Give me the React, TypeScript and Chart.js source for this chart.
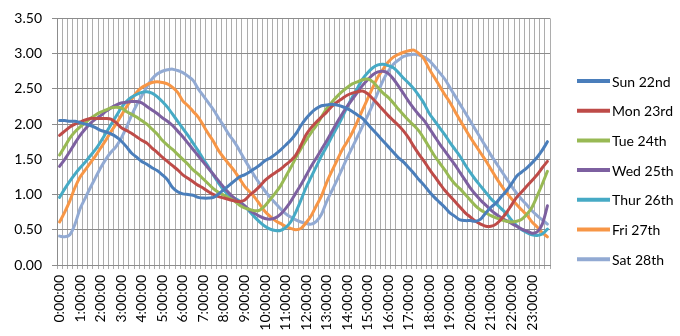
import React, { useEffect, useRef } from "react";
import { Chart, registerables } from "chart.js";

Chart.register(...registerables);

// 15-minute categories over one day
const categories: string[] = [];
for (let h = 0; h < 24; h++) {
  for (const m of ["00", "15", "30", "45"]) categories.push(`${h}:${m}:00`);
}

const seriesNames = ["Sun 22nd", "Mon 23rd", "Tue 24th", "Wed 25th", "Thur 26th", "Fri 27th", "Sat 28th"];
const seriesColors = ["#4A7EBB", "#BE4B48", "#98B954", "#7D60A0", "#46AAC5", "#F79646", "#92AAD3"];

const sun = [
  2.05, 2.05, 2.04, 2.04, 2.02, 2.0, 1.98, 1.95, 1.91, 1.89, 1.86, 1.82, 1.76, 1.68, 1.59, 1.53,
  1.47, 1.43, 1.38, 1.34, 1.28, 1.21, 1.1, 1.04, 1.01, 1.0, 0.99, 0.96, 0.95, 0.95, 0.96, 1.01,
  1.07, 1.13, 1.19, 1.25, 1.28, 1.32, 1.37, 1.42, 1.48, 1.52, 1.57, 1.63, 1.7, 1.77, 1.86, 1.98,
  2.08, 2.16, 2.22, 2.26, 2.27, 2.28, 2.27, 2.25, 2.22, 2.18, 2.13, 2.08, 2.0, 1.92, 1.84, 1.76,
  1.68, 1.6, 1.52, 1.46, 1.38, 1.3, 1.21, 1.13, 1.04, 0.96, 0.89, 0.82, 0.74, 0.69, 0.64, 0.63,
  0.63, 0.62, 0.65, 0.74, 0.82, 0.88, 0.97, 1.05, 1.15, 1.26, 1.32, 1.38, 1.45, 1.53, 1.63, 1.75,
];
const mon = [
  1.84, 1.9, 1.96, 2.0, 2.03, 2.06, 2.08, 2.08, 2.08, 2.08, 2.07, 2.02, 1.95, 1.91, 1.87, 1.82,
  1.77, 1.73, 1.66, 1.6, 1.53, 1.47, 1.41, 1.35, 1.28, 1.23, 1.18, 1.13, 1.09, 1.04, 1.0, 0.97,
  0.95, 0.93, 0.91, 0.9, 0.92, 0.99, 1.05, 1.12, 1.2, 1.26, 1.31, 1.36, 1.42, 1.48, 1.56, 1.7,
  1.85, 1.95, 2.03, 2.1, 2.17, 2.25, 2.31, 2.36, 2.41, 2.44, 2.46, 2.47, 2.43, 2.36, 2.28, 2.2,
  2.12, 2.05, 1.98, 1.9, 1.8, 1.68, 1.57, 1.47, 1.36, 1.26, 1.16, 1.06, 0.98, 0.9, 0.82, 0.74,
  0.68, 0.62, 0.58, 0.55, 0.55, 0.58, 0.65, 0.74, 0.85, 0.96, 1.04, 1.12, 1.2, 1.28, 1.38, 1.47,
];
const tue = [
  1.56, 1.68, 1.8, 1.89, 1.96, 2.02, 2.08, 2.13, 2.17, 2.2, 2.23, 2.24, 2.23, 2.18, 2.14, 2.1,
  2.05, 2.0, 1.93, 1.86, 1.77, 1.7, 1.64, 1.57, 1.5, 1.43, 1.35, 1.29, 1.22, 1.15, 1.08, 1.03,
  0.99, 0.95, 0.91, 0.85, 0.81, 0.79, 0.77, 0.78, 0.84, 0.93, 1.02, 1.12, 1.25, 1.38, 1.52, 1.65,
  1.77, 1.88, 1.98, 2.1, 2.22, 2.31, 2.39, 2.46, 2.52, 2.57, 2.6, 2.63, 2.64, 2.6, 2.52, 2.44,
  2.38, 2.3, 2.21, 2.13, 2.05, 1.98, 1.9, 1.79, 1.67, 1.55, 1.45, 1.35, 1.24, 1.15, 1.08, 1.0,
  0.92, 0.84, 0.78, 0.74, 0.7, 0.67, 0.64, 0.62, 0.61, 0.62, 0.65, 0.72, 0.82, 0.98, 1.15, 1.33,
];
const wed = [
  1.4, 1.5, 1.61, 1.73, 1.84, 1.93, 2.01, 2.07, 2.12, 2.18, 2.23, 2.27, 2.3, 2.31, 2.32, 2.32,
  2.3, 2.25, 2.2, 2.15, 2.09, 2.04, 1.98, 1.9, 1.82, 1.73, 1.64, 1.55, 1.46, 1.37, 1.28, 1.19,
  1.1, 1.02, 0.95, 0.89, 0.84, 0.78, 0.73, 0.69, 0.66, 0.65, 0.67, 0.72, 0.8, 0.9, 1.02, 1.14,
  1.27, 1.4, 1.52, 1.64, 1.76, 1.89, 2.02, 2.14, 2.25, 2.35, 2.45, 2.55, 2.63, 2.7, 2.74, 2.75,
  2.72, 2.64, 2.54, 2.43, 2.32, 2.22, 2.13, 2.05, 1.94, 1.83, 1.72, 1.62, 1.52, 1.42, 1.31, 1.2,
  1.09, 1.0, 0.92, 0.85, 0.78, 0.72, 0.67, 0.63, 0.59, 0.55, 0.51, 0.48, 0.45, 0.47, 0.58, 0.84,
];
const thu = [
  0.96, 1.08, 1.19, 1.29, 1.38, 1.46, 1.55, 1.64, 1.75, 1.87, 1.99, 2.11, 2.23, 2.32, 2.38, 2.42,
  2.45, 2.46, 2.44, 2.39, 2.32, 2.24, 2.14, 2.04, 1.94, 1.84, 1.73, 1.62, 1.5, 1.39, 1.27, 1.16,
  1.06, 0.99, 0.95, 0.91, 0.84, 0.76, 0.68, 0.61, 0.55, 0.51, 0.49, 0.49, 0.53, 0.61, 0.75, 0.92,
  1.1, 1.25, 1.4, 1.55, 1.68, 1.82, 1.95, 2.09, 2.24, 2.38, 2.51, 2.64, 2.73, 2.8, 2.84, 2.85,
  2.83, 2.8, 2.73, 2.65, 2.58, 2.5, 2.4, 2.29, 2.15, 2.05, 1.95, 1.85, 1.74, 1.64, 1.54, 1.42,
  1.31, 1.21, 1.12, 1.03, 0.94, 0.87, 0.8, 0.73, 0.64, 0.56, 0.5, 0.46, 0.43, 0.42, 0.44, 0.51,
];
const fri = [
  0.61, 0.75, 0.91, 1.1, 1.25, 1.35, 1.45, 1.55, 1.66, 1.77, 1.89, 2.0, 2.12, 2.24, 2.35, 2.45,
  2.52, 2.56, 2.59, 2.6, 2.59, 2.57, 2.52, 2.45, 2.33, 2.26, 2.18, 2.1, 1.98, 1.86, 1.75, 1.62,
  1.52, 1.43, 1.34, 1.23, 1.12, 1.04, 0.96, 0.86, 0.76, 0.69, 0.63, 0.59, 0.55, 0.52, 0.5, 0.52,
  0.6, 0.7, 0.84, 0.98, 1.17, 1.33, 1.48, 1.63, 1.75, 1.88, 2.04, 2.2, 2.36, 2.52, 2.67, 2.78,
  2.88, 2.95, 2.99, 3.02, 3.04, 3.05, 3.0, 2.92, 2.78, 2.66, 2.54, 2.42, 2.31, 2.18, 2.05, 1.93,
  1.81, 1.7, 1.59, 1.48, 1.36, 1.24, 1.13, 1.03, 0.94, 0.86, 0.78, 0.71, 0.61, 0.54, 0.46, 0.4,
];
const sat = [
  0.41, 0.4, 0.43, 0.58, 0.8, 0.95, 1.1, 1.24, 1.38, 1.5, 1.6, 1.68, 1.8, 1.95, 2.12, 2.27,
  2.4, 2.53, 2.64, 2.71, 2.75, 2.77, 2.78, 2.76, 2.73, 2.68, 2.62, 2.5, 2.4, 2.3, 2.2, 2.08,
  1.97, 1.85, 1.75, 1.63, 1.5, 1.38, 1.26, 1.15, 1.05, 0.96, 0.88, 0.8, 0.73, 0.68, 0.64, 0.61,
  0.59, 0.58, 0.62, 0.72, 0.9, 1.05, 1.2, 1.36, 1.52, 1.67, 1.82, 1.97, 2.12, 2.28, 2.45, 2.62,
  2.75, 2.85, 2.91, 2.96, 2.98, 2.99, 2.98, 2.95, 2.9, 2.82, 2.73, 2.64, 2.52, 2.4, 2.28, 2.16,
  2.04, 1.92, 1.8, 1.68, 1.56, 1.45, 1.34, 1.23, 1.12, 1.02, 0.93, 0.85, 0.77, 0.7, 0.64, 0.58,
];

const seriesValues = [sun, mon, tue, wed, thu, fri, sat];

const FONT = "Lato, 'DejaVu Sans', sans-serif";

const legendPlugin = {
  id: "rightLegend",
  afterDraw(chart: any) {
    const ctx = chart.ctx;
    ctx.save();
    chart.data.datasets.forEach((ds: any, i: number) => {
      const y = 81 + i * 29.7;
      ctx.strokeStyle = ds.borderColor;
      ctx.lineWidth = 4;
      ctx.lineCap = "butt";
      ctx.beginPath();
      ctx.moveTo(577, y);
      ctx.lineTo(610, y);
      ctx.stroke();
      ctx.fillStyle = "#000";
      ctx.font = `14px ${FONT}`;
      ctx.textBaseline = "middle";
      ctx.textAlign = "left";
      ctx.fillText(ds.label, 612, y + 1);
    });
    ctx.restore();
  },
};

export default function App() {
  const ref = useRef<HTMLCanvasElement>(null);
  useEffect(() => {
    if (!ref.current) return;
    const chart = new Chart(ref.current, {
      type: "line",
      data: {
        labels: categories,
        datasets: seriesNames.map((name, i) => ({
          label: name,
          data: seriesValues[i],
          borderColor: seriesColors[i],
          backgroundColor: seriesColors[i],
          borderWidth: 3,
          pointRadius: 0,
          tension: 0.3,
          borderCapStyle: "round",
          borderJoinStyle: "round",
          fill: false,
        })),
      },
      options: {
        responsive: false,
        animation: false,
        layout: { padding: { top: 15, right: 130, left: 0, bottom: 0 } },
        plugins: { legend: { display: false }, tooltip: { enabled: false } },
        scales: {
          x: {
            type: "category",
            offset: true,
            grid: { offset: true, color: "#ADADAD", tickLength: 4, lineWidth: 1 },
            border: { color: "#8C8C8C" },
            ticks: {
              autoSkip: false,
              maxRotation: 90,
              minRotation: 90,
              padding: 6,
              color: "#000",
              font: { family: FONT, size: 14 },
              callback: (_v: any, i: number) => (i % 4 === 0 ? `${i / 4}:00:00` : ""),
            },
            afterFit: (s: any) => {
              s.height = 71;
            },
          },
          y: {
            min: 0,
            max: 3.5,
            grid: { color: "#8C8C8C", tickLength: 5 },
            border: { color: "#8C8C8C" },
            ticks: {
              stepSize: 0.5,
              padding: 10,
              color: "#000",
              font: { family: FONT, size: 14 },
              callback: (v: any) => Number(v).toFixed(2),
            },
            afterFit: (s: any) => {
              s.width = 57;
            },
          },
        },
      },
      plugins: [legendPlugin],
    });
    return () => chart.destroy();
  }, []);
  return (
    <div style={{ position: "fixed", left: 0, top: 0, width: 680, height: 336, background: "#fff" }}>
      <canvas ref={ref} width={680} height={336} style={{ width: 680, height: 336 }} />
    </div>
  );
}
